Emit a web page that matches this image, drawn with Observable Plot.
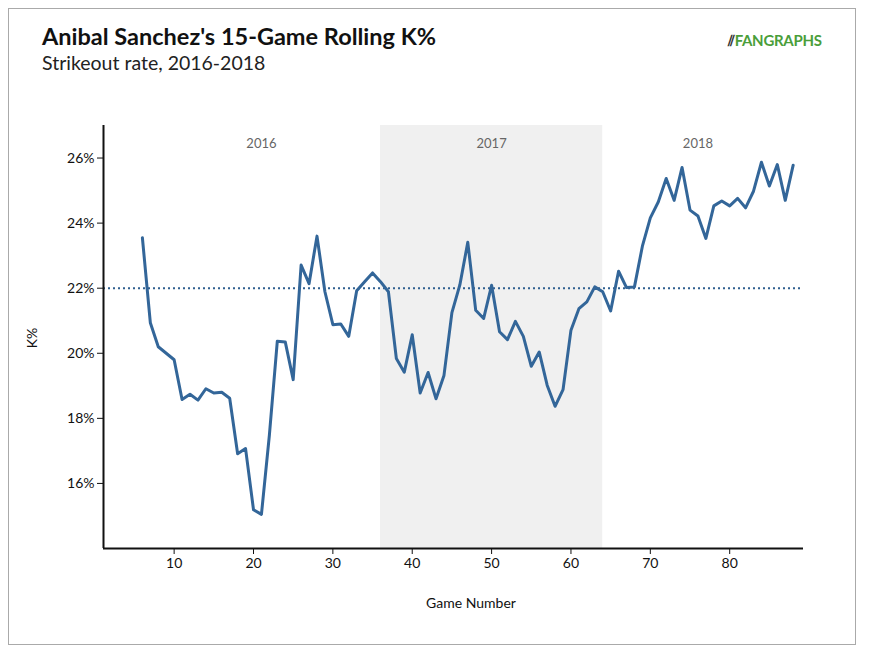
<!DOCTYPE html>
<html><head><meta charset="utf-8">
<script src="https://cdn.jsdelivr.net/npm/d3@7"></script>
<script src="https://cdn.jsdelivr.net/npm/@observablehq/plot@0.6"></script>
<style>
body{margin:0;background:#fff;font-family:Lato,sans-serif}
#wrap{position:relative;width:869px;height:655px}
#frame{position:absolute;left:8px;top:8px;width:848px;height:637px;border:1px solid #aaa;box-sizing:border-box}
#title{position:absolute;left:42px;top:22px;font-size:23.5px;font-weight:bold;color:#111}
#sub{position:absolute;left:42px;top:51px;font-size:19.5px;color:#222}
#logo{position:absolute;left:728px;top:31px;font-size:15px;font-weight:bold;color:#4a9e3a;letter-spacing:-0.3px}
svg{position:absolute;left:0;top:0}
</style></head><body>
<div id="wrap"><div id="frame"></div>
<div id="title">Anibal Sanchez's 15-Game Rolling K%</div>
<div id="sub">Strikeout rate, 2016-2018</div>
<div id="logo"><span style="color:#333">⫽</span>FANGRAPHS</div>
</div>
<script>
const games = d3.range(6, 89);
const kPct = [23.55,20.94,20.2,20.0,19.8,18.58,18.74,18.56,18.91,18.78,18.8,18.62,16.91,17.07,15.19,15.05,17.48,20.37,20.35,19.19,22.71,22.14,23.6,21.89,20.88,20.9,20.52,21.92,22.2,22.47,22.2,21.89,19.84,19.42,20.57,18.78,19.41,18.6,19.32,21.25,22.1,23.41,21.32,21.07,22.09,20.66,20.42,20.98,20.52,19.6,20.04,19.02,18.37,18.88,20.71,21.37,21.58,22.04,21.89,21.3,22.52,22.02,22.04,23.29,24.16,24.65,25.37,24.7,25.71,24.4,24.22,23.53,24.53,24.68,24.53,24.76,24.47,24.98,25.87,25.14,25.8,24.7,25.78];
const seasons = ["2016","2017","2018"];
const seasonLabelX = [21,50,76];
const shade = [{x1:36,x2:64}];
const avgK = 22;
const yTicks = [16,18,20,22,24,26];
const xTicks = [10,20,30,40,50,60,70,80];
const data = games.map((g,i)=>({g,k:kPct[i]}));
const plot = Plot.plot({
  width:869,height:655,marginLeft:103,marginRight:66,marginTop:125,marginBottom:107,
  style:{fontFamily:"Lato, sans-serif",fontSize:"14px",color:"#111",background:"transparent"},
  x:{domain:[1.1,89.3],ticks:xTicks,label:null},
  y:{domain:[14,27],ticks:yTicks,tickFormat:d=>d+"%",label:null},
  marks:[
    Plot.rectX(shade,{x1:"x1",x2:"x2",y1:14,y2:27,fill:"#f0f0f0"}),
    Plot.text(seasons,{x:(d,i)=>seasonLabelX[i],y:26.44,text:d=>d,fill:"#666",fontSize:13}),
    Plot.ruleY([avgK],{stroke:"#2f5f8f",strokeWidth:2,strokeDasharray:"2,3"}),
    Plot.line(data,{x:"g",y:"k",stroke:"#336699",strokeWidth:3}),
    Plot.axisX({ticks:xTicks,tickSize:6,fontSize:14,tickPadding:4,label:null}),
    Plot.axisY({ticks:yTicks,tickSize:6,fontSize:14,tickFormat:d=>d+"%",label:null}),
    Plot.ruleX([1.1],{stroke:"#111",strokeWidth:2}),
    Plot.ruleY([14],{stroke:"#111",strokeWidth:2})
  ]
});
document.getElementById("wrap").appendChild(plot);
const svg = d3.select(plot);
svg.append("text").attr("x",471).attr("y",608).attr("text-anchor","middle").style("font-size","14px").text("Game Number");
svg.append("text").attr("transform","translate(37,338) rotate(-90)").attr("text-anchor","middle").style("font-size","14px").text("K%");
</script></body></html>
